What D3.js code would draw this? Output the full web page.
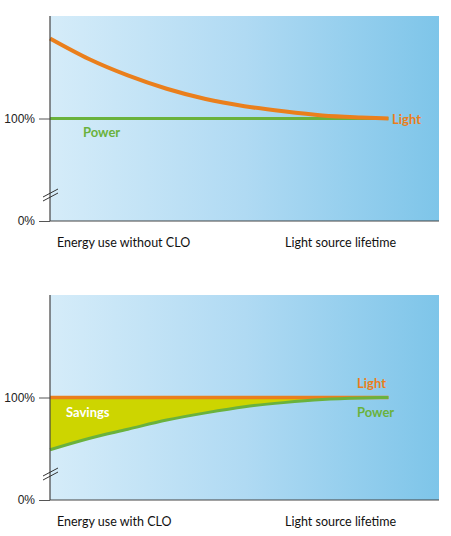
<!DOCTYPE html>
<html><head><meta charset="utf-8">
<script src="https://cdn.jsdelivr.net/npm/d3@7"></script>
<style>body{margin:0;background:#fff}svg{display:block}</style>
</head><body>
<svg id="c" width="451" height="536"></svg>
<script>
// Data
const lifetime = [0, 10, 20, 30, 40, 50, 60, 70, 80, 87];
const lightWithout = [178, 158, 142, 129, 119, 112, 107, 103, 101, 100];
const powerWithout = [100, 100, 100, 100, 100, 100, 100, 100, 100, 100];
const lightWith = [100, 100, 100, 100, 100, 100, 100, 100, 100, 100];
const powerWith = [49, 60, 69, 78, 85, 91, 95, 98, 99.5, 100];
const yTicks = [0, 100];
const tickLabels = ["0%", "100%"];
const panelTitles = ["Energy use without CLO", "Energy use with CLO"];
const xTitle = "Light source lifetime";

const svg = d3.select("#c");
const defs = svg.append("defs");
const g = defs.append("linearGradient").attr("id", "bg").attr("x1", "0").attr("x2", "1").attr("y1", "0").attr("y2", "0");
g.append("stop").attr("offset", "0").attr("stop-color", "#d5ecf9");
g.append("stop").attr("offset", "0.5").attr("stop-color", "#b0daf3");
g.append("stop").attr("offset", "1").attr("stop-color", "#7ec5e9");

const ORANGE = "#ea7f1c", GREEN = "#6ab23c", FILL = "#cdd500";
const x = d3.scaleLinear().domain([0, 100]).range([50, 439]);

function panel(top, zeroY, light, power, savings, labels, title) {
  const y = d3.scaleLinear().domain([0, 200]).range([zeroY, top]);
  const p = svg.append("g");
  p.append("rect").attr("x", x(0)).attr("y", top).attr("width", x(100) - x(0)).attr("height", zeroY - top).attr("fill", "url(#bg)");
  if (savings) {
    const area = d3.area().x((d, i) => x(lifetime[i])).y0((d, i) => y(power[i])).y1((d, i) => y(light[i])).curve(d3.curveMonotoneX);
    p.append("path").datum(lifetime).attr("d", area).attr("fill", FILL);
  }
  const line = vals => d3.line().x((d, i) => x(lifetime[i])).y((d, i) => y(vals[i])).curve(d3.curveMonotoneX)(lifetime);
  if (savings) {
    p.append("path").attr("d", line(light)).attr("fill", "none").attr("stroke", ORANGE).attr("stroke-width", 3.5);
    p.append("path").attr("d", line(power)).attr("fill", "none").attr("stroke", GREEN).attr("stroke-width", 3);
  } else {
    p.append("path").attr("d", line(power)).attr("fill", "none").attr("stroke", GREEN).attr("stroke-width", 3);
    p.append("path").attr("d", line(light)).attr("fill", "none").attr("stroke", ORANGE).attr("stroke-width", 4);
  }
  // axes
  const ax = d3.axisLeft(y).tickValues(yTicks).tickFormat((d, i) => tickLabels[i]).tickSize(11).tickPadding(4);
  const axg = p.append("g").attr("transform", `translate(${x(0)},0)`).call(ax);
  axg.select(".domain").remove();
  axg.selectAll(".tick line").attr("stroke", "#555");
  axg.selectAll(".tick text").attr("font-family", "Liberation Sans, Arial, sans-serif").attr("font-size", 12).attr("fill", "#222");
  p.append("line").attr("x1", x(0)).attr("x2", x(0)).attr("y1", top).attr("y2", zeroY).attr("stroke", "#444").attr("stroke-width", 1.2);
  p.append("line").attr("x1", x(0)).attr("x2", x(100)).attr("y1", zeroY).attr("y2", zeroY).attr("stroke", "#444").attr("stroke-width", 1.2);
  // break marks
  const by = zeroY - 26;
  [-2, 2].forEach(o => {
    p.append("line").attr("x1", 43).attr("y1", by + 4 + o).attr("x2", 58).attr("y2", by - 4 + o).attr("stroke", "#333").attr("stroke-width", 1);
  });
  // series labels
  labels.forEach(l => {
    p.append("text").attr("x", l.x).attr("y", y(l.v) + l.dy).text(l.t)
      .attr("font-family", "Lato, 'Open Sans', sans-serif").attr("font-weight", "bold").attr("font-size", 13).attr("fill", l.c);
  });
  p.append("text").attr("x", 57).attr("y", zeroY + 26).text(title).attr("font-family", "Lato, sans-serif").attr("font-size", 12.5).attr("fill", "#111");
  p.append("text").attr("x", 285).attr("y", zeroY + 26).text(xTitle).attr("font-family", "Lato, sans-serif").attr("font-size", 12.5).attr("fill", "#111");
}

panel(16, 221, lightWithout, powerWithout, false, [
  {t: "Light", x: 392, v: 100, dy: 5, c: ORANGE},
  {t: "Power", x: 83, v: 100, dy: 18, c: GREEN}
], panelTitles[0]);
panel(295, 500, lightWith, powerWith, true, [
  {t: "Light", x: 357, v: 100, dy: -10, c: ORANGE},
  {t: "Power", x: 357, v: 100, dy: 19, c: GREEN},
  {t: "Savings", x: 66, v: 100, dy: 19, c: "#ffffff"}
], panelTitles[1]);
</script>
</body></html>
